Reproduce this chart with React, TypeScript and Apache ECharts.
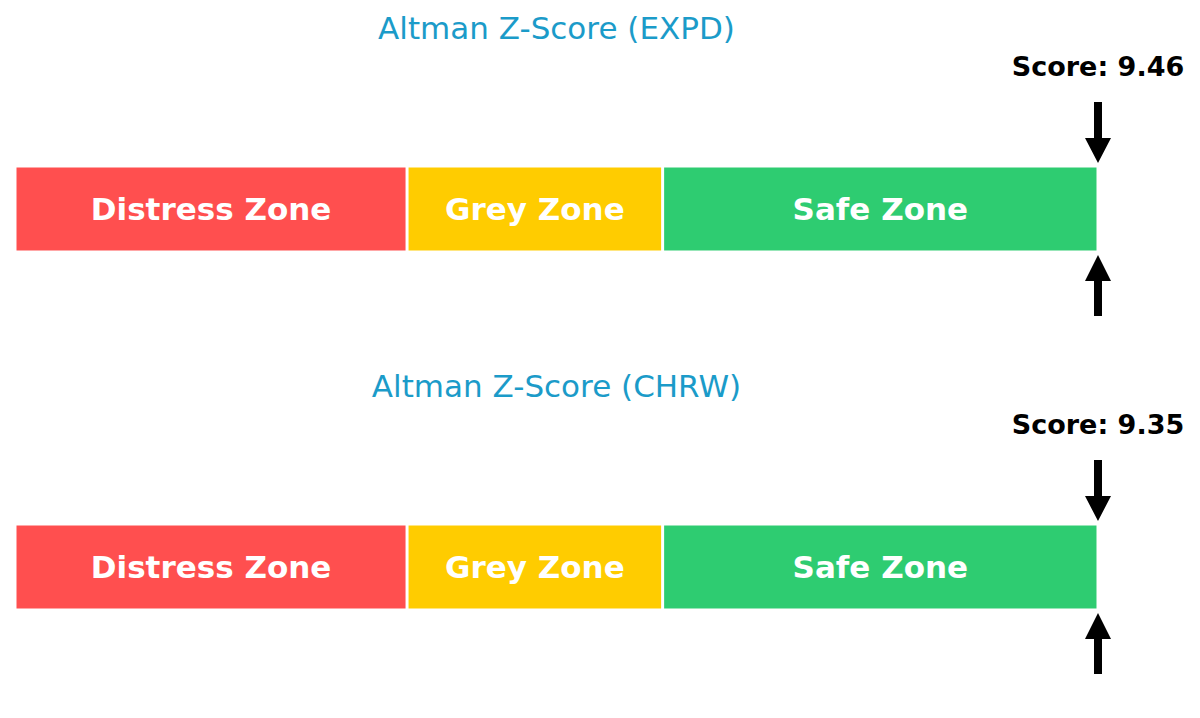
import React, { useEffect, useRef } from "react";
import * as echarts from "echarts";

const companies = ["EXPD", "CHRW"];
const scores = [9.46, 9.35];
const zoneNames = ["Distress Zone", "Grey Zone", "Safe Zone"];
const zoneBounds = [0, 1.81, 2.99, 5.0];
const zoneColors = ["#FF4F4F", "#FFCC00", "#2ECC71"];

const FONT = "DejaVu Sans";
const PANEL_OFFSET = 358;
const BAR_TOP = 166;
const BAR_H = 86;
const AXIS_LEFT = 15;
const AXIS_RIGHT = 102;
const TITLE_Y = 28;

function arrowPoints(x: number, tip: number, base: number, tail: number) {
  return [
    [x - 4, tail],
    [x + 4, tail],
    [x + 4, base],
    [x + 13, base],
    [x, tip],
    [x - 13, base],
    [x - 4, base],
  ];
}

export default function App() {
  const ref = useRef<HTMLDivElement>(null);
  useEffect(() => {
    document.body.style.margin = "0";
    if (!ref.current) return;
    const chart = echarts.init(ref.current, undefined, { renderer: "svg" });
    const xMax = zoneBounds[zoneBounds.length - 1];
    const grids: any[] = [];
    const xAxes: any[] = [];
    const yAxes: any[] = [];
    const series: any[] = [];
    const graphics: any[] = [];
    companies.forEach((c, i) => {
      grids.push({
        left: AXIS_LEFT,
        right: AXIS_RIGHT,
        top: BAR_TOP + i * PANEL_OFFSET,
        height: BAR_H,
      });
      xAxes.push({ type: "value", gridIndex: i, min: 0, max: xMax, show: false });
      yAxes.push({ type: "category", gridIndex: i, data: [c], show: false });
      zoneNames.forEach((z, k) => {
        series.push({
          type: "bar",
          xAxisIndex: i,
          yAxisIndex: i,
          stack: "zones" + i,
          barWidth: "100%",
          data: [zoneBounds[k + 1] - zoneBounds[k]],
          itemStyle: { color: zoneColors[k], borderColor: "#ffffff", borderWidth: 1.5 },
          label: {
            show: true,
            position: "inside",
            formatter: z,
            color: "#ffffff",
            fontWeight: "bold",
            fontSize: 31,
            fontFamily: FONT,
          },
          silent: true,
        });
      });
      const score = scores[i];
      series.push({
        type: "custom",
        xAxisIndex: i,
        yAxisIndex: i,
        data: [[Math.min(score, xMax), 0]],
        encode: { x: 0, y: 1 },
        silent: true,
        renderItem: (params: any, api: any) => {
          const pt = api.coord([api.value(0), 0]);
          const h = api.size([0, 1])[1];
          const x = pt[0];
          const top = pt[1] - h / 2;
          const bottom = pt[1] + h / 2;
          return {
            type: "group",
            children: [
              {
                type: "polygon",
                shape: { points: arrowPoints(x, top - 3, top - 28, top - 64) },
                style: { fill: "#000000" },
              },
              {
                type: "polygon",
                shape: { points: arrowPoints(x, bottom + 3, bottom + 29, bottom + 64) },
                style: { fill: "#000000" },
              },
              {
                type: "text",
                style: {
                  text: "Score: " + score.toFixed(2),
                  x: x,
                  y: top - 100,
                  align: "center",
                  verticalAlign: "middle",
                  fill: "#000000",
                  font: "bold 27px '" + FONT + "'",
                },
              },
            ],
          };
        },
      });
      graphics.push({
        type: "text",
        x: (AXIS_LEFT + (1200 - AXIS_RIGHT)) / 2,
        y: TITLE_Y + i * PANEL_OFFSET,
        style: {
          text: "Altman Z-Score (" + c + ")",
          align: "center",
          verticalAlign: "middle",
          fill: "#1B9BC9",
          font: "31px '" + FONT + "'",
        },
      });
    });
    chart.setOption({
      animation: false,
      backgroundColor: "#ffffff",
      grid: grids,
      xAxis: xAxes,
      yAxis: yAxes,
      series,
      graphic: graphics,
    });
    return () => chart.dispose();
  }, []);
  return <div ref={ref} style={{ width: 1200, height: 718 }} />;
}
